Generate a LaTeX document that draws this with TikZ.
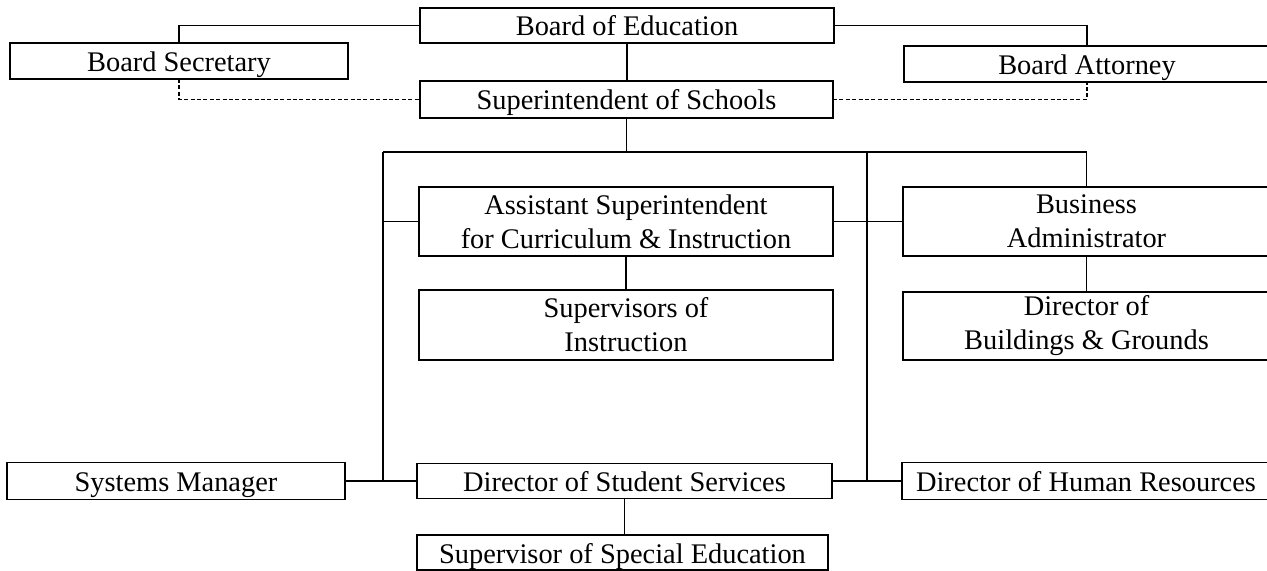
\documentclass[tikz,border=0pt]{standalone}
\usepackage{fontspec}
\setmainfont{Liberation Serif}
\begin{document}
\begin{tikzpicture}[x=0.5pt,y=-0.5pt,
  box/.style={draw=black, line width=0.75pt, fill=white, inner sep=0pt, outer sep=0pt,
    align=center, font=\fontsize{14.2pt}{17pt}\selectfont},
  onebox/.style={box, text height=10.5pt, text depth=0pt},
  link/.style={draw=black, line width=0.75pt},
  dlink/.style={draw=black, line width=0.75pt, dash pattern=on 2pt off 1.2pt}]
\useasboundingbox (0,0) rectangle (1267,571);
\clip (0,0) rectangle (1267,571);
% boxes
\node[onebox, minimum width=207pt, minimum height=17.5pt] (boe) at (627,25.5) {Board of Education};
\node[onebox, minimum width=169pt, minimum height=18pt] (bs) at (179,61) {Board Secretary};
\node[onebox, minimum width=183pt, minimum height=18pt] (ba) at (1087,64) {Board Attorney};
\node[onebox, minimum width=206.5pt, minimum height=18.5pt] (sos) at (626.5,99.5) {Superintendent of Schools};
\node[box, minimum width=207pt, minimum height=34.5pt] (as) at (626,221.5) {Assistant Superintendent\\for Curriculum \& Instruction};
\node[box, minimum width=207pt, minimum height=35pt] (si) at (626,325) {Supervisors of\\Instruction};
\node[box, minimum width=183.5pt, minimum height=34.5pt] (bus) at (1086.5,221.5) {Business\\Administrator};
\node[box, minimum width=183.5pt, minimum height=34pt] (dbg) at (1086.5,326) {Director of\\Buildings \& Grounds};
\node[onebox, minimum width=169pt, minimum height=18.5pt] (sm) at (176,481) {Systems Manager};
\node[onebox, minimum width=207.5pt, minimum height=17.5pt] (dss) at (624.5,481) {Director of Student Services};
\node[onebox, minimum width=184pt, minimum height=18.5pt] (dhr) at (1086,481) {Director of Human Resources};
\node[onebox, minimum width=205.5pt, minimum height=17.5pt] (sse) at (622.5,552.5) {Supervisor of Special Education};
% junction coordinates
\coordinate (jl) at (383,152);
\coordinate (jr) at (867,152);
% connectors
\draw[link] (bs.north) |- (boe.west);
\draw[link] (boe.east) -| (ba.north);
\draw[link] (boe.south) -- (boe.south |- sos.north);
\draw[dlink] (bs.south) |- (sos.west);
\draw[dlink] (sos.east) -| (ba.south);
\draw[link] (sos.south) -- (sos.south |- jl);
\draw[link] (jl) -- (jl -| bus.north) -- (bus.north);
\draw[link] (jl) -- (jl |- sm.east);
\draw[link] (jr) -- (jr |- dhr.west);
\draw[link] (as.west) -- (as.west -| jl);
\draw[link] (as.east) -- (bus.west);
\draw[link] (as.south) -- (as.south |- si.north);
\draw[link] (bus.south) -- (dbg.north);
\draw[link] (sm.east) -- (dss.west);
\draw[link] (dss.east) -- (dhr.west);
\draw[link] (dss.south) -- (dss.south |- sse.north);
\end{tikzpicture}
\end{document}
